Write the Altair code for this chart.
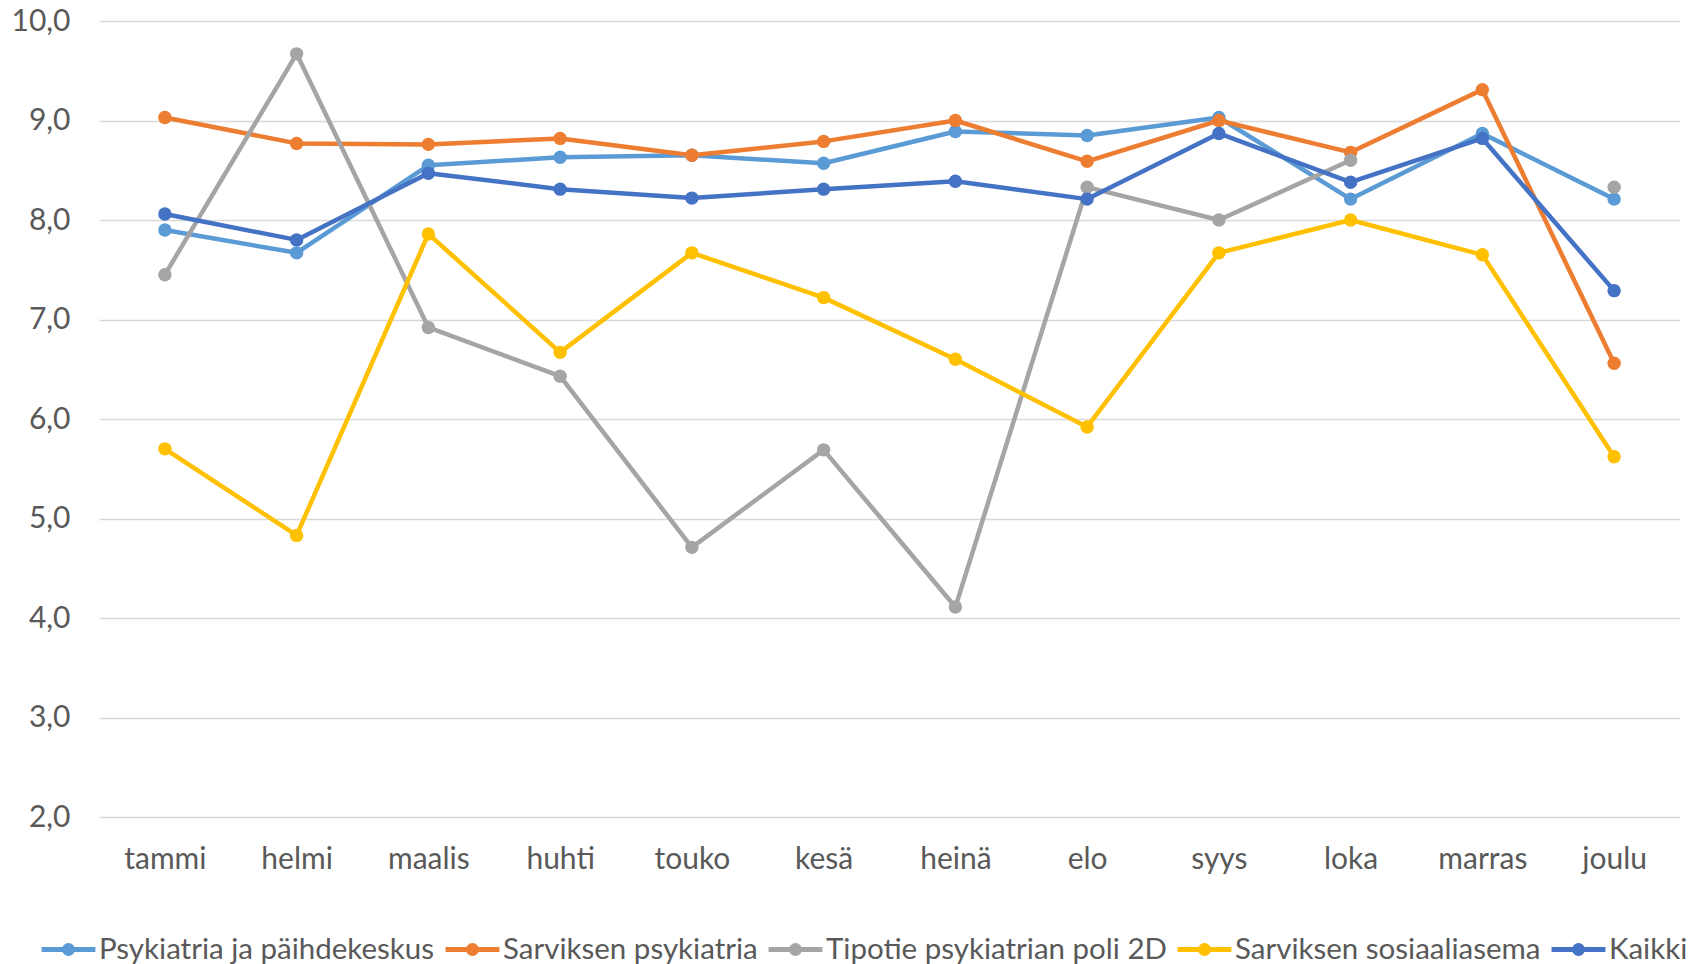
import altair as alt
import pandas as pd

months = ["tammi", "helmi", "maalis", "huhti", "touko", "kesä", "heinä", "elo", "syys", "loka", "marras", "joulu"]
series_names = ["Psykiatria ja päihdekeskus", "Sarviksen psykiatria", "Tipotie psykiatrian poli 2D",
                "Sarviksen sosiaaliasema", "Kaikki"]
colors = ["#5B9BD5", "#ED7D31", "#A5A5A5", "#FFC000", "#4472C4"]

psykiatria = [7.90, 7.67, 8.55, 8.63, 8.65, 8.57, 8.89, 8.85, 9.03, 8.21, 8.87, 8.21]
sarviksen_psyk = [9.03, 8.77, 8.76, 8.82, 8.65, 8.79, 9.00, 8.59, 9.00, 8.68, 9.31, 6.56]
tipotie = [7.45, 9.67, 6.92, 6.43, 4.71, 5.69, 4.11, 8.33, 8.00, 8.60, None, 8.33]
sosiaaliasema = [5.70, 4.83, 7.86, 6.67, 7.67, 7.22, 6.60, 5.92, 7.67, 8.00, 7.65, 5.62]
kaikki = [8.06, 7.80, 8.47, 8.31, 8.22, 8.31, 8.39, 8.21, 8.87, 8.38, 8.82, 7.29]

all_values = [psykiatria, sarviksen_psyk, tipotie, sosiaaliasema, kaikki]

FONT = "Lato"
TXT = "#595959"
FS = 30

x_enc = alt.X("kk:N", sort=months,
              scale=alt.Scale(type="point", padding=0.5),
              axis=alt.Axis(title=None, domain=False, ticks=False, grid=False,
                            labelFont=FONT, labelFontSize=FS, labelColor=TXT,
                            labelPadding=27, labelAngle=0))
y_enc = alt.Y("arvo:Q",
              scale=alt.Scale(domain=[2, 10], nice=False, zero=False),
              axis=alt.Axis(title=None, domain=False, ticks=False, values=list(range(2, 11)),
                            labelExpr="replace(format(datum.value, '.1f'), '.', ',')",
                            labelFont=FONT, labelFontSize=FS, labelColor=TXT,
                            labelPadding=29, gridColor="#D9D9D9", gridWidth=1.5))

legend_path = ("M-1,0 L1,0 "
               "M-0.15,0 A0.15,0.15 0 1,0 0.15,0 A0.15,0.15 0 1,0 -0.15,0 "
               "M-0.06,0 A0.06,0.06 0 1,0 0.06,0 A0.06,0.06 0 1,0 -0.06,0")

scale = alt.Scale(domain=series_names, range=colors)
color_enc = alt.Color("sarja:N", sort=series_names, scale=scale,
                      legend=alt.Legend(title=None, orient="none", direction="horizontal",
                                        legendX=-60, legendY=899,
                                        symbolType=legend_path, symbolSize=2900,
                                        symbolStrokeWidth=5, symbolOpacity=1,
                                        labelFont=FONT, labelFontSize=29.5, labelColor=TXT,
                                        labelOffset=1, columnPadding=0,
                                        labelLimit=700))

layers = []
for name, vals in zip(series_names, all_values):
    df = pd.DataFrame({"kk": months, "arvo": vals, "sarja": name})
    line = (alt.Chart(df).mark_line(strokeWidth=4.5, strokeCap="round", strokeJoin="round")
            .encode(x=x_enc, y=y_enc, color=color_enc))
    pts = (alt.Chart(df).mark_point(filled=True, size=180, opacity=1)
           .encode(x=x_enc, y=y_enc, color=color_enc)
           .transform_filter("isValid(datum.arvo)"))
    layers += [line, pts]

chart = alt.layer(*layers).properties(
    width=1581, height=796,
    autosize=alt.AutoSizeParams(type="none"),
    padding={"left": 91, "top": 13, "right": 7, "bottom": 147},
    background="white",
).configure_view(stroke=None)

chart.save("out.html", embed_options={"renderer": "svg", "actions": False})
